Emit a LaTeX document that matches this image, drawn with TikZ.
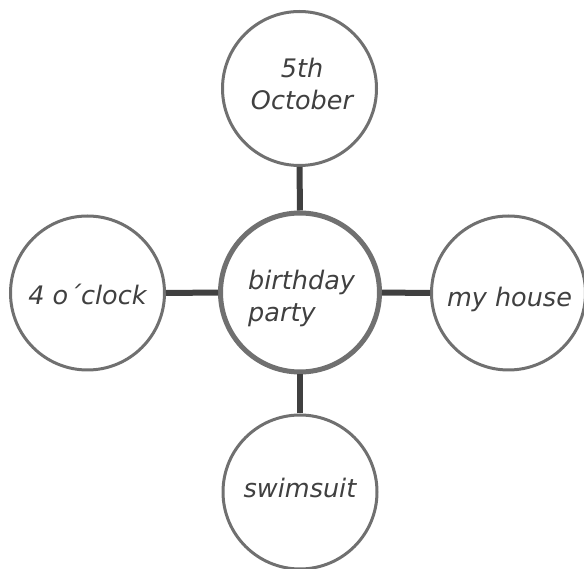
\documentclass[tikz,border=0pt]{standalone}
\usepackage{fontspec}
\setmainfont{DejaVu Sans}
\definecolor{ringgray}{HTML}{707070}
\definecolor{linkgray}{HTML}{404040}
\definecolor{txtgray}{HTML}{404040}
\begin{document}
\begin{tikzpicture}[x=1pt,y=1pt,
  bubble/.style={circle,draw=ringgray,line width=3pt,fill=white,minimum size=154pt,inner sep=0pt},
  hub/.style={circle,draw=ringgray,line width=5pt,fill=white,minimum size=159pt,inner sep=0pt},
  link/.style={draw=linkgray,line width=6pt},
  lbl/.style={text=txtgray,font=\fontsize{25.5}{32}\selectfont\itshape,inner sep=0pt}]
\useasboundingbox (0,0) rectangle (584,568);
% circles (y up: y' = 568 - y)
\node[hub]    (hub)    at (300,275.5) {};
\node[bubble] (top)    at (299.5,479.5) {};
\node[bubble] (left)   at (87.5,275) {};
\node[bubble] (right)  at (508.5,275) {};
\node[bubble] (bottom) at (300,76) {};
% connectors
\draw[link] (top) -- (hub);
\draw[link] (left) -- (hub);
\draw[link] (right) -- (hub);
\draw[link] (bottom) -- (hub);
% texts
\node[lbl,align=center,anchor=base] (t1) at (302,458) {5th\\October};
\node[lbl,align=left,anchor=base west] (t2) at (248,246) {birthday\\party};
\node[lbl,anchor=base] (t3) at (87.5,263) {4 o´clock};
\node[lbl,anchor=base] (t4) at (509.5,261) {my house};
\node[lbl,anchor=base] (t5) at (300,70) {swimsuit};
\end{tikzpicture}
\end{document}
